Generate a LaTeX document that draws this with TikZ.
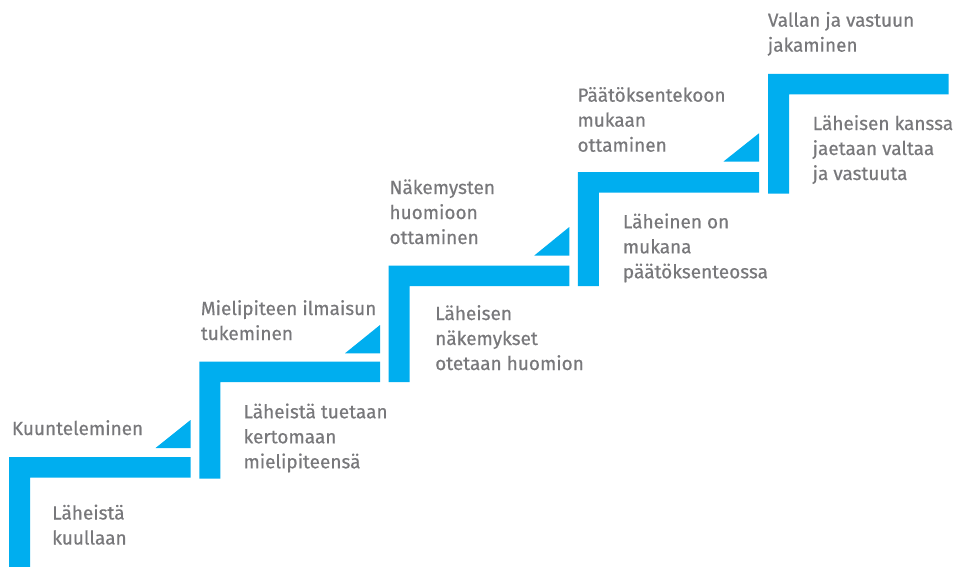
\documentclass[tikz,border=0pt]{standalone}
\usepackage{fontspec}
\setmainfont{Fira Sans}
\newfontfamily\stepfont{Fira Sans}[FakeBold=0.5]
\definecolor{stepblue}{HTML}{00AEEF}
\definecolor{textgrey}{HTML}{78787B}

\tikzset{bar/.style={fill=stepblue, draw=none},
         riser/.style={fill=stepblue, draw=none},
         lbl/.style={anchor=base west, inner sep=0pt, align=left, text=textgrey,
                     font=\stepfont\fontsize{19}{25}\selectfont}}

\begin{document}
\begin{tikzpicture}[x=1pt, y=-1pt]
        \useasboundingbox (0,0) rectangle (953,567);

        % steps
        \fill[bar] (  9.0,570.0) -- (  9.0,457.0) -- (190.5,457.0) -- (190.5,477.5) -- ( 30.0,477.5) -- ( 30.0,570.0) -- cycle;
        \fill[bar] (199.3,478.5) -- (199.3,361.7) -- (380.0,361.7) -- (380.0,382.2) -- (220.3,382.2) -- (220.3,478.5) -- cycle;
        \fill[bar] (388.5,382.2) -- (388.5,265.5) -- (569.3,265.5) -- (569.3,286.0) -- (409.5,286.0) -- (409.5,382.2) -- cycle;
        \fill[bar] (577.8,286.0) -- (577.8,172.0) -- (759.0,172.0) -- (759.0,192.5) -- (598.8,192.5) -- (598.8,286.0) -- cycle;
        \fill[bar] (768.0,193.5) -- (768.0, 74.0) -- (948.5, 74.0) -- (948.5, 94.5) -- (789.0, 94.5) -- (789.0,193.5) -- cycle;

        % risers
        \fill[riser] (155.5,448.0) -- (190.5,448.0) -- (190.5,420.0) -- cycle;
        \fill[riser] (345.0,353.3) -- (380.0,353.3) -- (380.0,325.0) -- cycle;
        \fill[riser] (534.3,255.5) -- (569.3,255.5) -- (569.3,227.0) -- cycle;
        \fill[riser] (723.5,161.5) -- (759.0,161.5) -- (759.0,133.3) -- cycle;

        % labels (anchored at the baseline of the last line)
        \node[lbl] at ( 11.7,435.0) (kuuntelu)  {Kuunteleminen};
        \node[lbl] at (200.7,340.0) (tukeminen) {Mielipiteen ilmaisun\\tukeminen};
        \node[lbl] at (389.3,244.0) (huomio)    {Näkemysten\\huomioon\\ottaminen};
        \node[lbl] at (577.3,151.7) (mukaan)    {Päätöksentekoon\\mukaan\\ottaminen};
        \node[lbl] at (767.7, 51.7) (jakaminen) {Vallan ja vastuun\\jakaminen};

        \node[lbl] at ( 52.0,544.5) (kuullaan)  {Läheistä\\kuullaan};
        \node[lbl] at (243.3,468.3) (kertomaan) {Läheistä tuetaan\\kertomaan\\mielipiteensä};
        \node[lbl] at (435.0,370.0) (otetaan)   {Läheisen\\näkemykset\\otetaan huomion};
        \node[lbl] at (622.7,278.3) (mukana)    {Läheinen on\\mukana\\päätöksenteossa};
        \node[lbl] at (812.5,180.0) (jaetaan)   {Läheisen kanssa\\jaetaan valtaa\\ja vastuuta};
\end{tikzpicture}
\end{document}
